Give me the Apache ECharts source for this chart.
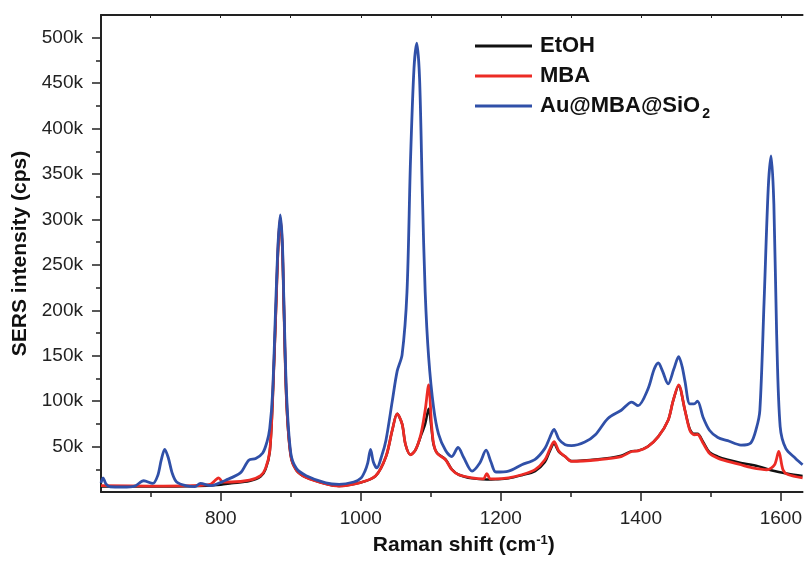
<!DOCTYPE html>
<html>
<head>
<meta charset="utf-8">
<script src="https://cdn.jsdelivr.net/npm/echarts@6/dist/echarts.min.js"></script>
<style>
  html, body { margin: 0; padding: 0; background: #fff; }
  #chart { width: 805px; height: 561px; }
</style>
</head>
<body>
<div id="chart"></div>
<script>
// intensities in k cps
const etohData = [[629,6],[700,6],[780,7],[800,8],[815,9.5],[841,12],[857,17],[864,25],[870,44],[874,98],[879,203],[882,268],[885,300],[888,268],[890,208],[894,98],[900,40],[908,24],[922,16],[950,9],[969,6.6],[998,10],[1021,17.5],[1036,39],[1045,68],[1052,86],[1059,75],[1064,52],[1071,41],[1078,46],[1086,62],[1092,75],[1097,91.5],[1101,70],[1104,52],[1109,43],[1121,36],[1130,25],[1140,19],[1159,15],[1180,13.8],[1192,14],[1211,15],[1230,18.5],[1249,23],[1263,33],[1270,45],[1276,53],[1283,44],[1292,39],[1301,34],[1339,36],[1372,40],[1387,45],[1396,45.5],[1410,50],[1425,61],[1439,79],[1446,100],[1454,117],[1463,90],[1470,69],[1476,64],[1481,64],[1489,55],[1498,44],[1510,39],[1524,35.5],[1543,32],[1567,28.5],[1586,24],[1610,20],[1631,17.5]];
const mbaData = [[629,7],[700,6.5],[760,7],[785,8.5],[791,12],[797,15.6],[803,11],[815,11],[841,13],[857,18],[864,26],[870,45],[874,100],[879,205],[882,270],[885,302],[888,270],[890,210],[894,100],[900,40],[908,24],[922,16],[950,9],[969,6.6],[998,10],[1021,17.5],[1036,39],[1045,68],[1052,86],[1059,75],[1064,52],[1071,41],[1078,46],[1086,64],[1092,90],[1097,118],[1101,75],[1104,53.5],[1109,42.7],[1121,35.5],[1130,24.6],[1140,19],[1159,15.6],[1175,14.5],[1180,20.3],[1185,14.5],[1192,14.5],[1211,15.6],[1230,19],[1249,24.6],[1263,35.5],[1270,47],[1276,55.4],[1283,45],[1292,39],[1301,33.7],[1339,35.5],[1372,39],[1387,44.6],[1396,45.2],[1410,50],[1425,61],[1439,79],[1446,100],[1454,118],[1463,90],[1470,68],[1476,63],[1481,63.3],[1489,53.6],[1498,42.7],[1510,37.3],[1524,33.7],[1543,30],[1557,27],[1580,24.5],[1591,30],[1597,44.6],[1603,24.6],[1610,19.2],[1631,15.6]];
const auData = [[629,10],[632,15.6],[636,9],[642,5.8],[660,5.5],[677,6.5],[690,12.4],[703,9.4],[710,18],[715,35],[720,47],[725,38],[731,20],[737,11],[750,7],[763,6],[771,9.4],[786,7],[807,13],[828,21],[840,35],[850,37],[860,43],[866,55],[870,70],[874,108],[879,216],[882,275],[885,305],[888,275],[890,216],[894,108],[900,43],[908,26],[922,18],[950,10],[969,8.4],[990,11],[1000,15],[1006,23],[1010,32],[1014,47],[1018,33],[1023,26.5],[1030,40],[1036,57],[1045,100],[1052,133],[1059,151],[1066,220],[1071,364],[1076,466],[1080,494],[1084,455],[1088,328],[1092,220],[1097,148],[1104,93],[1111,64],[1121,46],[1130,39],[1139,49],[1147,38],[1159,23],[1170,32],[1179,46],[1186,33],[1193,22],[1211,23],[1230,30],[1249,36],[1263,48],[1270,60],[1276,69],[1283,58],[1292,52],[1301,51],[1320,55],[1335,63],[1353,81],[1372,90],[1387,99],[1396,95],[1410,113],[1419,135],[1425,142],[1431,133],[1439,119],[1447,135],[1454,149],[1459,138],[1463,122],[1470,97],[1476,97],[1481,100],[1489,82],[1498,68],[1510,60],[1524,56.5],[1543,51.7],[1557,54],[1565,70],[1570,90],[1576,209],[1582,335],[1586,370],[1590,317],[1594,173],[1599,72],[1607,48],[1621,37],[1631,30]];

const xMajorTicks = [800, 1000, 1200, 1400, 1600];
const xMinorTicks = [700, 900, 1100, 1300, 1500];
const xTopTicks = [700, 800, 900, 1000, 1100, 1200, 1300, 1400, 1500, 1600];
const yMajorTicks = [50, 100, 150, 200, 250, 300, 350, 400, 450, 500];
const yMinorTicks = [25, 75, 125, 175, 225, 275, 325, 375, 425, 475];

const font = 'Liberation Sans, Arial, sans-serif';
const axisColor = '#222';

const chart = echarts.init(document.getElementById('chart'));

const option = {
  animation: false,
  textStyle: { fontFamily: font },
  grid: { left: 101, right: 0, top: 15, bottom: 64 },
  legend: {
    orient: 'vertical',
    left: 475,
    top: 35,
    padding: 0,
    itemGap: 8,
    itemWidth: 57,
    itemHeight: 3,
    icon: 'rect',
    data: ['EtOH', 'MBA', 'Au@MBA@SiO2'],
    formatter: function (name) {
      if (name === 'Au@MBA@SiO2') return '{a|Au@MBA@SiO}{sub|2}';
      return '{a|' + name + '}';
    },
    textStyle: {
      padding: [0, 0, 0, 3],
      rich: {
        a: { fontSize: 22, fontWeight: 'bold', color: '#111', fontFamily: font, lineHeight: 30 },
        sub: { fontSize: 14, fontWeight: 'bold', color: '#111', fontFamily: font, lineHeight: 14, verticalAlign: 'bottom', padding: [0, 0, 0, 2] }
      }
    }
  },
  xAxis: [
    {
      type: 'value', min: 629, max: 1631,
      position: 'bottom',
      name: '{a|Raman shift (cm}{sup|-1}{a|)}',
      nameLocation: 'middle',
      nameGap: 42,
      nameTextStyle: {
        padding: [0, 0, 0, 24],
        rich: {
          a: { fontSize: 21, fontWeight: 'bold', color: '#111', fontFamily: font },
          sup: { fontSize: 13, fontWeight: 'bold', color: '#111', fontFamily: font, verticalAlign: 'top', padding: [0, 0, 10, 0] }
        }
      },
      splitLine: { show: false },
      axisLine: { lineStyle: { color: axisColor, width: 2 } },
      axisTick: { customValues: xMajorTicks, length: 9, lineStyle: { color: axisColor, width: 1.5 } },
      axisLabel: { customValues: xMajorTicks, margin: 17, fontSize: 19, color: '#222', formatter: v => String(v) }
    },
    {
      type: 'value', min: 629, max: 1631,
      position: 'bottom',
      splitLine: { show: false },
      axisLine: { show: false },
      axisTick: { customValues: xMinorTicks, length: 5, lineStyle: { color: axisColor, width: 1.5 } },
      axisLabel: { show: false }
    },
    {
      type: 'value', min: 629, max: 1631,
      position: 'top',
      splitLine: { show: false },
      axisLine: { lineStyle: { color: axisColor, width: 2 } },
      axisTick: { customValues: xTopTicks, inside: true, length: 3, lineStyle: { color: axisColor, width: 1 } },
      axisLabel: { show: false }
    }
  ],
  yAxis: [
    {
      type: 'value', min: 0, max: 525,
      name: 'SERS intensity (cps)',
      nameLocation: 'middle',
      nameGap: 68,
      nameTextStyle: { fontSize: 21, fontWeight: 'bold', color: '#111' },
      splitLine: { show: false },
      axisLine: { show: true, lineStyle: { color: axisColor, width: 2 } },
      axisTick: { show: true, customValues: yMajorTicks, length: 9, lineStyle: { color: axisColor, width: 1.5 } },
      axisLabel: { customValues: yMajorTicks, margin: 18, fontSize: 19, color: '#222', formatter: v => v + 'k' }
    },
    {
      type: 'value', min: 0, max: 525,
      position: 'left',
      splitLine: { show: false },
      axisLine: { show: false },
      axisTick: { show: true, customValues: yMinorTicks, length: 5, lineStyle: { color: axisColor, width: 1.5 } },
      axisLabel: { show: false }
    }
  ],
  series: [
    {
      name: 'EtOH', type: 'line', data: etohData,
      showSymbol: false, symbol: 'none', smooth: 0.3,
      lineStyle: { color: '#111', width: 2.5 }, itemStyle: { color: '#111' }
    },
    {
      name: 'MBA', type: 'line', data: mbaData,
      showSymbol: false, symbol: 'none', smooth: 0.3,
      lineStyle: { color: '#ec2b25', width: 2.8 }, itemStyle: { color: '#ec2b25' }
    },
    {
      name: 'Au@MBA@SiO2', type: 'line', data: auData,
      showSymbol: false, symbol: 'none', smooth: 0.3,
      lineStyle: { color: '#3050a8', width: 2.8 }, itemStyle: { color: '#3050a8' }
    }
  ]
};

chart.setOption(option);
</script>
</body>
</html>
